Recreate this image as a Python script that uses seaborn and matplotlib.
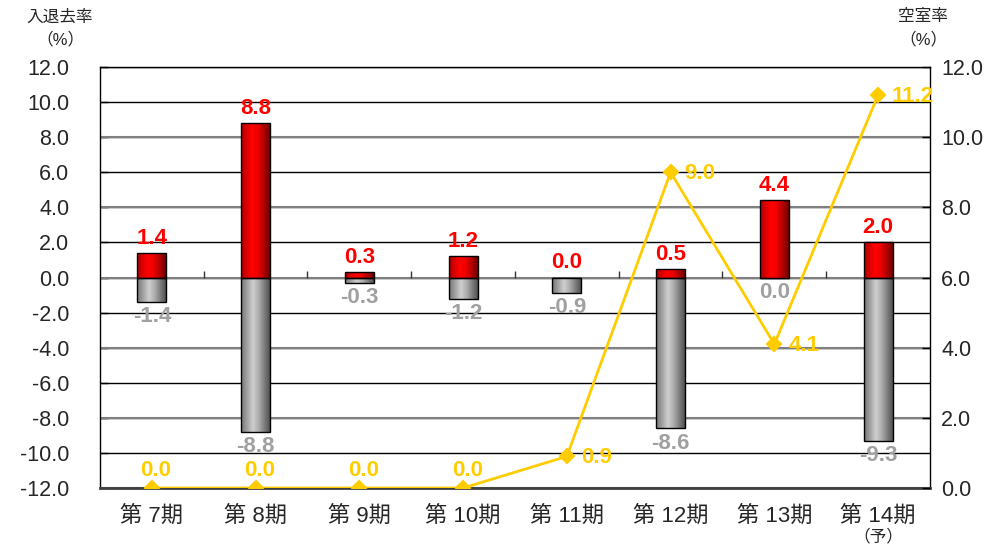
import numpy as np
import matplotlib
matplotlib.use("Agg")
import matplotlib.pyplot as plt
import seaborn as sns
from matplotlib.colors import LinearSegmentedColormap

# data
periods = ["第 7期", "第 8期", "第 9期", "第 10期", "第 11期", "第 12期", "第 13期", "第 14期"]
move_in = [1.4, 8.8, 0.3, 1.2, 0.0, 0.5, 4.4, 2.0]
move_out = [-1.4, -8.8, -0.3, -1.2, -0.9, -8.6, 0.0, -9.3]
vacancy = [0.0, 0.0, 0.0, 0.0, 0.9, 9.0, 4.1, 11.2]
left_ticks = [-12, -10, -8, -6, -4, -2, 0, 2, 4, 6, 8, 10, 12]
right_ticks = [0, 2, 4, 6, 8, 10, 12]

sns.set_style("white")
plt.rcParams["font.family"] = ["Liberation Sans", "Noto Sans CJK JP", "DejaVu Sans"]

RED_LABEL = "#FF0000"
GRAY_LABEL = "#A0A0A0"
GOLD = "#FFCC00"

fig = plt.figure(figsize=(9.87, 5.48), dpi=100)
ax = fig.add_axes([0.1013, 0.1095, 0.8409, 0.7682])

# bars
sns.barplot(x=periods, y=move_in, color="red", saturation=1, width=0.28,
            edgecolor="black", linewidth=1, ax=ax, zorder=3)
sns.barplot(x=periods, y=move_out, color="gray", saturation=1, width=0.28,
            edgecolor="black", linewidth=1, ax=ax, zorder=3)

# cylinder-like shading on the bars
red_cmap = LinearSegmentedColormap.from_list(
    "redcyl", [(0, "#B00000"), (0.35, "#FF0000"), (0.55, "#F00000"), (1, "#6A0000")])
gray_cmap = LinearSegmentedColormap.from_list(
    "graycyl", [(0, "#767676"), (0.4, "#CFCFCF"), (0.6, "#ABABAB"), (1, "#4A4A4A")])
grad = np.linspace(0, 1, 64).reshape(1, -1)
n = len(periods)
for i, patch in enumerate(list(ax.patches)):
    h = patch.get_height()
    if h == 0:
        continue
    x0, y0, w = patch.get_x(), patch.get_y(), patch.get_width()
    cmap = red_cmap if i < n else gray_cmap
    im = ax.imshow(grad, cmap=cmap, aspect="auto", extent=(x0, x0 + w, y0, y0 + h),
                   origin="lower", zorder=3.1, interpolation="bilinear")
    im.set_clip_path(patch)
    patch.set_facecolor("none")
    patch.set_zorder(3.2)

ax.set_xlim(-0.5, n - 0.5)
ax.set_ylim(-12, 12)
ax.set_yticks(left_ticks)
ax.set_yticklabels([f"{v:.1f}" for v in left_ticks])

# gridlines: black for left ticks, gray where the right axis ticks fall
ax.grid(axis="y", color="black", linewidth=1, zorder=0)
ax.grid(axis="x", visible=False)
ax.set_axisbelow(True)
for r in right_ticks:
    ax.axhline(2 * r - 12, color="#808080", linewidth=1.5, zorder=1)
ax.vlines(np.arange(0.5, n - 0.5, 1), 0, 0.35, color="#333333", linewidth=1, zorder=2)

ax.tick_params(axis="y", direction="in", length=6, width=1, color="black",
               labelsize=15.5, pad=22, left=True)
ax.tick_params(axis="x", length=0, labelsize=16, pad=13)
ax.set_xlabel("")
ax.set_ylabel("")
for s in ["left", "right", "top"]:
    ax.spines[s].set_color("black")
    ax.spines[s].set_linewidth(1)
ax.spines["bottom"].set_color("#404040")
ax.spines["bottom"].set_linewidth(2)

# bar value labels
for i in range(n):
    ax.annotate(f"{move_in[i]:.1f}", (i, move_in[i]), xytext=(0, 3), textcoords="offset points",
                ha="center", va="bottom", fontsize=16, fontweight="bold", color=RED_LABEL, zorder=5)
    ax.annotate(f"{move_out[i]:.1f}", (i, move_out[i]), xytext=(0, -3), textcoords="offset points",
                ha="center", va="top", fontsize=16, fontweight="bold", color=GRAY_LABEL, zorder=5)

# vacancy rate line on the right axis
ax2 = ax.twinx()
sns.pointplot(x=periods, y=vacancy, ax=ax2, color=GOLD, markers="D", markersize=7,
              linewidth=2, errorbar=None)
ax2.set_xlim(-0.5, n - 0.5)
ax2.set_ylim(0, 12)
ax2.set_yticks(right_ticks)
ax2.set_yticklabels([f"{v:.1f}" for v in right_ticks])
ax2.tick_params(axis="y", direction="in", length=6, width=1, color="black",
                labelsize=15.5, pad=8, right=True)
ax2.tick_params(axis="x", labelbottom=False, length=0)
ax2.set_xlabel("")
ax2.set_ylabel("")
ax2.grid(False)
for s in ax2.spines.values():
    s.set_visible(False)

for i in range(n):
    if vacancy[i] == 0:
        ax2.annotate(f"{vacancy[i]:.1f}", (i, vacancy[i]), xytext=(3, 5), textcoords="offset points",
                     ha="center", va="bottom", fontsize=16, fontweight="bold", color=GOLD, clip_on=False)
    else:
        ax2.annotate(f"{vacancy[i]:.1f}", (i, vacancy[i]), xytext=(10, -1), textcoords="offset points",
                     ha="left", va="center", fontsize=16, fontweight="bold", color=GOLD, clip_on=False)

# axis titles
fig.text(60 / 987, 1 - 17 / 548, "入退去率", ha="center", va="center", fontsize=12)
fig.text(60 / 987, 1 - 39 / 548, "（%）", ha="center", va="center", fontsize=12)
fig.text(923 / 987, 1 - 17 / 548, "空室率", ha="center", va="center", fontsize=12)
fig.text(923 / 987, 1 - 39 / 548, "（%）", ha="center", va="center", fontsize=12)
ax.annotate("（予）", (n - 1, 0), xycoords=("data", "axes fraction"), xytext=(0, -35),
            textcoords="offset points", ha="center", va="center", fontsize=12)

fig.savefig("out.png", dpi=100)
